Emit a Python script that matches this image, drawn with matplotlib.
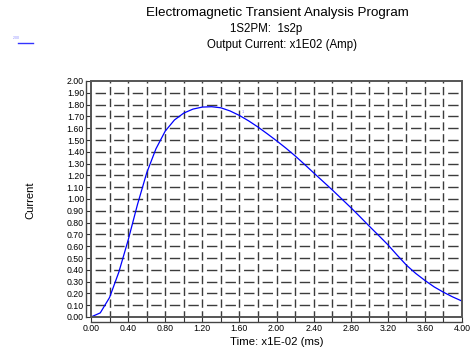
import numpy as np
import matplotlib
matplotlib.use("Agg")
import matplotlib.pyplot as plt
from matplotlib.lines import Line2D
from matplotlib.patches import Rectangle

plt.rcParams['font.family'] = ['Liberation Sans', 'DejaVu Sans']

# output current (x1E02 Amp) vs time (x1E-02 ms)
time = np.array([0.0, 0.1, 0.2, 0.3, 0.4, 0.5, 0.6, 0.7, 0.8, 0.9,
                 1.0, 1.1, 1.2, 1.3, 1.4, 1.5, 1.6, 1.7, 1.8, 1.9,
                 2.0, 2.1, 2.2, 2.3, 2.4, 2.5, 2.6, 2.7, 2.8, 2.9,
                 3.0, 3.1, 3.2, 3.3, 3.4, 3.5, 3.6, 3.7, 3.8, 3.9, 4.0])
current = np.array([0.0, 0.035, 0.165, 0.38, 0.65, 0.95, 1.22, 1.425, 1.575, 1.67,
                    1.728, 1.762, 1.779, 1.782, 1.773, 1.746, 1.708, 1.662, 1.61, 1.553,
                    1.494, 1.432, 1.366, 1.295, 1.222, 1.15, 1.078, 1.003, 0.928, 0.85,
                    0.77, 0.692, 0.613, 0.525, 0.44, 0.37, 0.31, 0.255, 0.21, 0.17, 0.135])

xticks = np.arange(0, 4.01, 0.4)
xminor = np.arange(0, 4.01, 0.2)
yticks = np.arange(0, 2.001, 0.1)

title_lines = ['Electromagnetic Transient Analysis Program',
               '1S2PM:  1s2p',
               'Output Current: x1E02 (Amp)']

fig = plt.figure(figsize=(4.75, 3.52), dpi=100)
ax = fig.add_axes([91/475, 1-317/352, 371/475, 236/352])

ax.plot(time, current, color='#0000ff', lw=0.9, zorder=3)

ax.set_xlim(0, 4.0)
ax.set_ylim(0, 2.0)

# dashed grid at every tick, dash period tied to the cell size
for x in xminor[1:-1]:
    ax.axvline(x, color='#3c3c3c', lw=1.0, ls=(1.5, (6.0, 2.5)), zorder=1)
for y in yticks[1:-1]:
    ax.axhline(y, color='#3c3c3c', lw=1.0, ls=(10.4, (7.5, 5.86)), zorder=1)

# inner frame plus offset axes
ax.add_patch(Rectangle((0, 0), 1, 1, transform=ax.transAxes, fill=False,
                       ec='#555555', lw=1.4, zorder=4, clip_on=False))
for side in ['top', 'right']:
    ax.spines[side].set_visible(False)
for side in ['left', 'bottom']:
    ax.spines[side].set_position(('outward', 3.6))
    ax.spines[side].set_color('#444444')
    ax.spines[side].set_linewidth(1.0)

ax.set_xticks(xticks)
ax.set_xticks(xminor, minor=True)
ax.set_xticklabels(['%.2f' % v for v in xticks])
ax.set_yticks(yticks)
ax.set_yticklabels(['%.2f' % v for v in yticks])
ax.tick_params(axis='both', which='both', direction='in', length=3.6,
               width=0.8, color='#333333', labelsize=6.3, pad=1.5)

ax.set_xlabel('Time: x1E-02 (ms)', fontsize=8.2, labelpad=3)
fig.text(30/475, 1-200/352, 'Current', rotation=90, fontsize=8,
         ha='center', va='center')

fig.text(277/475, 1-13/352, title_lines[0], fontsize=9.6, ha='center', va='center')
fig.text(266/475, 1-29/352, title_lines[1], fontsize=8.3, ha='center', va='center')
fig.text(282/475, 1-45/352, title_lines[2], fontsize=8.3, ha='center', va='center')

# curve key
fig.text(13/475, 1-38/352, '2.00', fontsize=2.5, color='#8888ff', va='center')
fig.add_artist(Line2D([18/475, 33/475], [1-43/352, 1-43/352], color='#3333ff', lw=1.0))
ax.text(1.63, 1.73, '1', fontsize=3, color='#8888ff')

fig.savefig('out.png', dpi=100)
